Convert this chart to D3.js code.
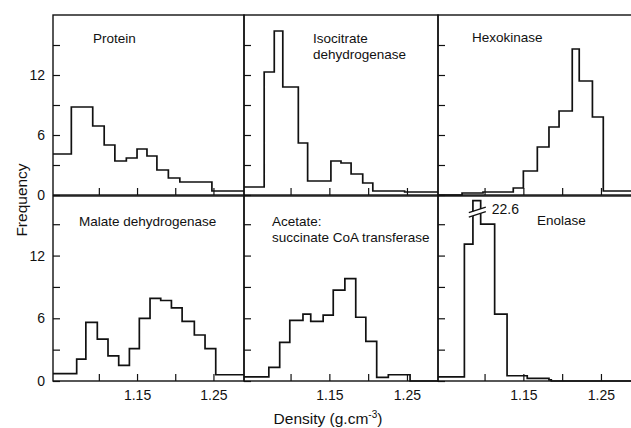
<!DOCTYPE html>
<html><head><meta charset="utf-8">
<script src="https://cdn.jsdelivr.net/npm/d3@7"></script>
<style>
body{margin:0;background:#fff}
svg{display:block}
text{font-family:"Liberation Sans",Arial,Helvetica,sans-serif;fill:#111}
</style>
</head><body>
<svg id="chart" width="631" height="428"></svg>
<script>
// ---------- data ----------
const densityTicks = [1.10, 1.15, 1.20, 1.25];
const densityTickLabels = ["", "1.15", "", "1.25"];
const frequencyTicks = [0, 3, 6, 9, 12, 15];
const frequencyTickLabels = ["0", "", "6", "", "12", ""];

const panelNames = [
  ["Protein"],
  ["Isocitrate", "dehydrogenase"],
  ["Hexokinase"],
  ["Malate dehydrogenase"],
  ["Acetate:", "succinate CoA transferase"],
  ["Enolase"]
];

const proteinEdges  = [1.040,1.064,1.092,1.107,1.121,1.136,1.150,1.163,1.176,1.191,1.206,1.248,1.290];
const proteinCounts = [4.1,8.8,6.9,5.0,3.4,3.7,4.6,3.9,2.5,1.7,1.3,0.4];

const icdEdges  = [1.040,1.066,1.079,1.090,1.110,1.122,1.152,1.165,1.178,1.193,1.206,1.247,1.290];
const icdCounts = [0.8,12.3,16.4,10.8,5.2,1.4,3.4,3.2,2.1,1.2,0.4,0.3];

const hexEdges  = [1.040,1.071,1.098,1.137,1.150,1.168,1.183,1.196,1.213,1.222,1.239,1.253,1.290];
const hexCounts = [0,0.2,0.3,0.7,2.4,4.8,6.8,8.4,14.6,11.4,7.8,0.4];

const mdhEdges  = [1.040,1.071,1.083,1.098,1.112,1.126,1.140,1.153,1.167,1.181,1.195,1.209,1.225,1.239,1.253,1.290];
const mdhCounts = [0.7,2.1,5.6,4.0,2.4,1.5,3.1,6.0,7.9,7.7,7.0,5.7,4.4,3.1,0.6];

const acetEdges  = [1.040,1.072,1.086,1.099,1.116,1.126,1.142,1.155,1.170,1.184,1.197,1.211,1.226,1.254,1.290];
const acetCounts = [0.4,1.3,3.7,5.8,6.4,5.7,6.3,8.7,9.8,6.1,3.8,0.35,0.6,0];

const enoEdges  = [1.040,1.074,1.085,1.095,1.113,1.129,1.155,1.183,1.186,1.290];
const enoCounts = [0.4,13.1,22.6,15.0,6.4,0.5,0.25,0.1,0];

const seriesEdges  = [proteinEdges, icdEdges, hexEdges, mdhEdges, acetEdges, enoEdges];
const seriesCounts = [proteinCounts, icdCounts, hexCounts, mdhCounts, acetCounts, enoCounts];

// ---------- layout ----------
const cols = [{left:53, w:191}, {left:244, w:194}, {left:438, w:194}];
const rows = [{top:15, bottom:195, ymax:18}, {top:196, bottom:381, ymax:17.7}];
const titlePos = [[40,43],[69,43],[34,42],[26,226],[28,226],[99,225]];
const BREAK_CAP = 17.25;
const xDomain = [1.04, 1.29];

const svg = d3.select("#chart");
const fmt = d3.format(".1f");

panelNames.forEach((names, i) => {
  const c = cols[i % 3], r = rows[Math.floor(i / 3)];
  const col = i % 3, row = Math.floor(i / 3);
  const x = d3.scaleLinear().domain(xDomain).range([c.left, c.left + c.w]);
  const y = d3.scaleLinear().domain([0, r.ymax]).range([r.bottom, r.top]);
  const g = svg.append("g");

  const clipId = "clip" + i;
  svg.append("clipPath").attr("id", clipId).append("rect")
    .attr("x", c.left).attr("y", r.top - 1).attr("width", c.w).attr("height", r.bottom - r.top + 2);

  // histogram (step line)
  const edges = seriesEdges[i], counts = seriesCounts[i];
  const pts = counts.map((v, k) => [edges[k], Math.min(v, BREAK_CAP)]);
  pts.push([edges[edges.length - 1], Math.min(counts[counts.length - 1], BREAK_CAP)]);
  const line = d3.line().x(d => x(d[0])).y(d => y(d[1])).curve(d3.curveStepAfter);
  g.append("path").attr("d", line(pts)).attr("clip-path", `url(#${clipId})`)
    .attr("fill", "none").attr("stroke", "#111").attr("stroke-width", 1.7);

  // axis breaks for off-scale bars
  counts.forEach((v, k) => {
    if (v > BREAK_CAP) {
      const xc = (x(edges[k]) + x(edges[k + 1])) / 2;
      const yc = y(16.1);
      g.append("path")
        .attr("d", `M${xc-9},${yc+0.5}L${xc+9},${yc-5.5}L${xc+9},${yc-1}L${xc-9},${yc+5}Z`)
        .attr("fill", "#fff").attr("stroke", "none");
      g.append("line").attr("x1", xc-8).attr("y1", yc).attr("x2", xc+9).attr("y2", yc-5.5)
        .attr("stroke", "#111").attr("stroke-width", 1.3);
      g.append("line").attr("x1", xc-8).attr("y1", yc+4.5).attr("x2", xc+9).attr("y2", yc-1)
        .attr("stroke", "#111").attr("stroke-width", 1.3);
      g.append("text").attr("x", xc + 15).attr("y", yc + 1.5)
        .attr("font-size", 14).text(fmt(v));
    }
  });

  // frame
  g.append("rect").attr("x", c.left).attr("y", r.top).attr("width", c.w).attr("height", r.bottom - r.top)
    .attr("fill", "none").attr("stroke", "#111").attr("stroke-width", 1.4);

  // x axis (ticks inward)
  const xa = g.append("g").attr("transform", `translate(0,${r.bottom})`)
    .call(d3.axisBottom(x).tickValues(densityTicks).tickSizeInner(-7).tickSizeOuter(0).tickPadding(9)
      .tickFormat((d, k) => row === 1 ? densityTickLabels[k] : ""));
  xa.select(".domain").remove();
  xa.selectAll(".tick line").attr("stroke", "#111").attr("stroke-width", 1.2);
  xa.selectAll(".tick text").attr("font-size", 14).attr("font-family", "Liberation Sans, Arial, sans-serif").attr("fill", "#111");

  // y axis (ticks inward)
  const ya = g.append("g").attr("transform", `translate(${c.left},0)`)
    .call(d3.axisLeft(y).tickValues(frequencyTicks).tickSizeInner(-7).tickSizeOuter(0).tickPadding(8)
      .tickFormat((d, k) => col === 0 ? frequencyTickLabels[k] : ""));
  ya.select(".domain").remove();
  ya.selectAll(".tick line").attr("stroke", "#111").attr("stroke-width", 1.2);
  ya.selectAll(".tick text").attr("font-size", 14).attr("font-family", "Liberation Sans, Arial, sans-serif").attr("fill", "#111");

  // panel title
  const t = g.append("text").attr("font-size", 13.5)
    .attr("x", c.left + titlePos[i][0]).attr("y", titlePos[i][1]);
  names.forEach((s, k) => {
    t.append("tspan").attr("x", c.left + titlePos[i][0]).attr("dy", k === 0 ? 0 : 16).text(s);
  });
});

// axis titles
svg.append("text").attr("transform", "translate(27,200) rotate(-90)")
  .attr("text-anchor", "middle").attr("font-size", 15.5).text("Frequency");

const dt = svg.append("text").attr("x", 328).attr("y", 424).attr("text-anchor", "middle").attr("font-size", 15.5);
dt.append("tspan").text("Density (g.cm");
dt.append("tspan").attr("font-size", 10).attr("dy", -6).text("-3");
dt.append("tspan").attr("dy", 6).text(")");
</script>
</body></html>
